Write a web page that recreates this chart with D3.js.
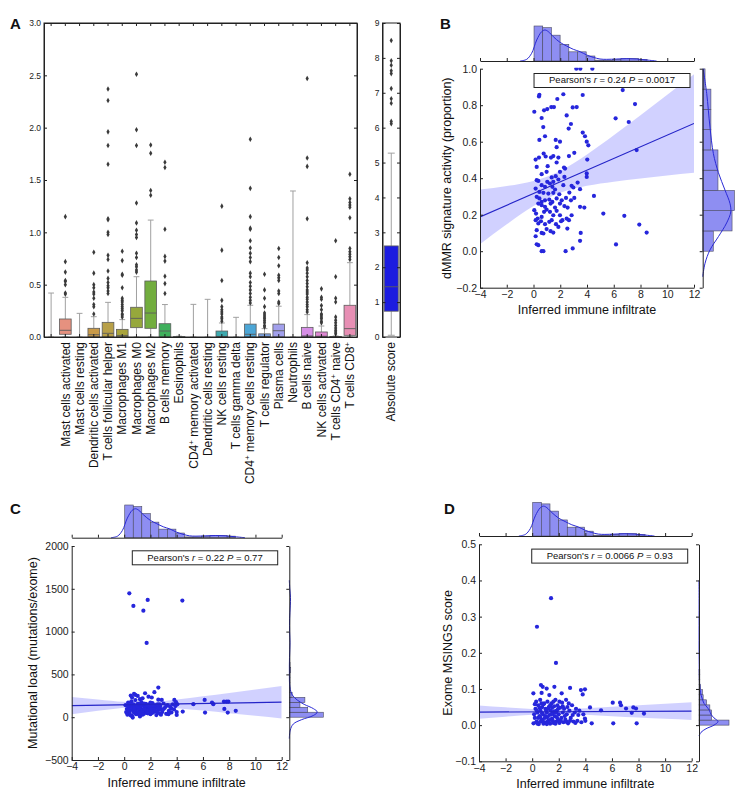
<!DOCTYPE html>
<html>
<head>
<meta charset="utf-8">
<script src="https://cdn.jsdelivr.net/npm/d3@7"></script>
<style>
body { margin: 0; background: #fff; }
text { font-family: "Liberation Sans", Arial, sans-serif; }
</style>
</head>
<body>
<script>
// ---------- panel A data ----------
// first cell type has no label in the figure
var cellTypes = ["", "Mast cells activated", "Mast cells resting", "Dendritic cells activated",
	"T cells follicular helper", "Macrophages M1", "Macrophages M0", "Macrophages M2",
	"B cells memory", "Eosinophils", "CD4^+ memory activated", "Dendritic cells resting",
	"NK cells resting", "T cells gamma delta", "CD4^+ memory cells resting", "T cells regulator",
	"Plasma cells", "Neutrophils", "B cells naive", "NK cells activated", "T cells CD4^+ naive",
	"T cells CD8^+"];

var whiskerLow  = [0, 0, 0, 0, 0, 0, 0, 0, 0, 0, 0, 0, 0, 0, 0, 0, 0, 0, 0, 0, 0, 0];
var quart1      = [0, 0.026, 0, 0, 0, 0, 0.089, 0.083, 0, 0, 0, 0, 0, 0, 0, 0, 0, 0, 0, 0, 0, 0.016];
var medians     = [0, 0.064, 0, 0.022, 0.035, 0.015, 0.178, 0.229, 0.057, 0, 0, 0, 0.005, 0, 0.026, 0.005, 0.06, 0, 0.01, 0.007, 0, 0.08];
var quart3      = [0, 0.172, 0, 0.083, 0.14, 0.073, 0.284, 0.535, 0.127, 0.002, 0, 0, 0.057, 0, 0.123, 0.03, 0.123, 0, 0.092, 0.048, 0.004, 0.303];
var whiskerHigh = [0.42, 0.379, 0.226, 0.194, 0.331, 0.166, 0.576, 1.117, 0.31, 0.008, 0.312, 0.36, 0.134, 0.188, 0.303, 0.08, 0.294, 1.395, 0.214, 0.105, 0.01, 0.71];
var outliers = [
	[],
	[1.15, 0.72, 0.62, 0.54, 0.53, 0.5, 0.42, 0.41],
	[],
	[0.81, 0.61, 0.5, 0.47, 0.43, 0.41, 0.37, 0.31, 0.29, 0.22],
	[2.37, 2.26, 1.96, 1.83, 1.65, 1.13, 1.12, 1.0, 0.98, 0.78, 0.74, 0.63, 0.56, 0.52, 0.49, 0.47, 0.44, 0.415],
	[0.82, 0.73, 0.6, 0.59, 0.47, 0.37, 0.35, 0.335, 0.31, 0.29, 0.27, 0.25, 0.22, 0.21, 0.19],
	[2.51, 1.98, 1.83, 1.28, 1.09, 1.02, 0.98, 0.95, 0.8, 0.76, 0.69, 0.67, 0.64, 0.62],
	[1.835, 1.755, 1.4, 1.355],
	[1.67, 1.62, 1.03, 0.77, 0.725, 0.58, 0.51, 0.415],
	[],
	[],
	[],
	[1.25, 0.83, 0.54, 0.35, 0.29, 0.26, 0.24, 0.22, 0.19, 0.175, 0.15],
	[],
	[1.89, 1.42, 1.15, 1.04, 1.03, 0.92, 0.85, 0.8, 0.76, 0.72, 0.61, 0.575, 0.52, 0.485, 0.45, 0.415, 0.38, 0.35, 0.325],
	[0.6, 0.45, 0.37, 0.29, 0.23, 0.21, 0.19, 0.175, 0.155, 0.135, 0.11, 0.095],
	[0.846, 0.76, 0.68, 0.59, 0.565, 0.54, 0.44, 0.415, 0.335, 0.32],
	[],
	[2.47, 1.71, 1.63, 1.13, 0.71, 0.66, 0.64, 0.61, 0.575, 0.54, 0.51, 0.48, 0.45, 0.43, 0.41, 0.38, 0.36, 0.335, 0.31, 0.29, 0.26, 0.24],
	[0.46, 0.38, 0.36, 0.3, 0.26, 0.22, 0.21, 0.19, 0.175, 0.15, 0.135],
	[0.92, 0.575, 0.37, 0.335, 0.19, 0.16, 0.135, 0.11, 0.086, 0.064, 0.048, 0.03],
	[1.555, 1.32, 1.285, 1.26, 1.24, 1.14, 0.846, 0.815, 0.79, 0.766, 0.74]
];
var cellTicks = [0, 0.5, 1.0, 1.5, 2.0, 2.5, 3.0];

// absolute score box
var absStats = [0.05, 0.74, 1.44, 2.61, 5.27];
var absOutliers = [8.5, 7.92, 7.79, 7.63, 7.55, 7.12, 6.83, 6.7, 6.18, 6.11];
var absTicks = [0, 1, 2, 3, 4, 5, 6, 7, 8, 9];

// ---------- shared infiltrate marginal ----------
var infiltrateTicks = [-4, -2, 0, 2, 4, 6, 8, 10, 12];
var infiltrateBinStart = 0.04, infiltrateBinWidth = 0.65;
var infiltrateCounts = [42, 40, 31, 20, 11, 11, 6, 1, 1, 2, 3, 3, 2];
var infiltrateKde = [[-1.0, 0], [-0.51, 2], [-0.14, 9.2], [0.24, 25.2], [0.61, 35.2], [0.86, 37.2],
	[1.11, 35.2], [1.48, 29.2], [1.98, 22.4], [2.48, 18], [2.98, 14], [3.48, 11.2], [3.98, 7.2],
	[4.47, 4.4], [4.97, 2.4], [5.47, 2], [6.22, 2.4], [6.97, 2.8], [7.71, 2.4], [8.46, 1.2], [9.2, 0]];
var bandX = [-4, -2, 0, 2, 4, 6, 8, 10, 12];

var pearsonR = ["0.24", "0.22", "0.0066"];
var pearsonP = ["0.0017", "0.77", "0.93"];

// ---------- panel B: dMMR ----------
var dmmrPoints = [[3.2,1.0],[3.5,1.0],[4.4,1.0],
	[0.41,0.848],[0.44,0.857],[2.23,0.86],[1.78,0.834],[3.68,0.856],[6.67,0.883],
	[0.06,0.764],[0.79,0.772],[1.03,0.779],[1.33,0.79],[1.53,0.79],[2.93,0.788],[3.23,0.79],[7.59,0.806],
	[0.61,0.73],[2.48,0.744],[6.14,0.728],[7.12,0.708],[0.73,0.68],[2.8,0.697],[2.63,0.672],
	[0.86,0.63],[0.44,0.61],[1.66,0.61],[1.98,0.6],[3.68,0.65],[3.85,0.63],[3.98,0.6],[4.1,0.58],[1.73,0.57],[7.71,0.554],
	[0.16,0.502],[0.41,0.513],[0.76,0.535],[0.91,0.519],[1.31,0.513],[1.48,0.521],[1.86,0.513],[2.65,0.521],[3.05,0.539],
	[0.24,0.462],[1.06,0.466],[1.73,0.486],[2.36,0.453],[2.28,0.458],[0.61,0.422],[0.98,0.435],[1.66,0.411],[1.98,0.435],
	[0.24,0.389],[0.36,0.385],[1.03,0.38],[1.36,0.404],[1.48,0.38],[1.86,0.393],[2.31,0.407],[4.02,0.502],[3.98,0.426],[3.98,0.407],
	[0.61,0.362],[0.86,0.353],[1.23,0.371],[1.41,0.353],[1.61,0.338],[2.23,0.362],[2.85,0.358],[3.3,0.376],
	[0.16,0.343],[0.44,0.325],[0.74,0.32],[1.11,0.316],[1.48,0.32],[1.93,0.312],[2.68,0.321],[2.98,0.349],[4.52,0.303],[3.48,0.34],
	[0.24,0.298],[0.44,0.289],[0.61,0.27],[0.86,0.279],[1.18,0.283],[1.41,0.27],[1.73,0.289],[2.11,0.279],[2.43,0.292],[2.8,0.279],[3.05,0.292],
	[0.36,0.261],[0.61,0.252],[0.86,0.243],[1.28,0.261],[1.61,0.239],[1.98,0.261],[2.31,0.247],[2.55,0.239],[3.48,0.243],[3.8,0.239],
	[5.22,0.206],[6.79,0.194],[7.91,0.146],[8.46,0.102],[6.17,0.037],
	[0.06,0.225],[0.19,0.206],[0.31,0.179],[0.61,0.188],[0.79,0.216],[0.98,0.228],[1.23,0.216],[1.48,0.197],[1.73,0.221],[1.98,0.197],[2.16,0.17],[2.48,0.179],[2.85,0.197],
	[0.16,0.17],[0.36,0.152],[0.56,0.164],[0.86,0.148],[1.18,0.161],[1.36,0.17],[1.68,0.148],[2.06,0.164],[2.65,0.17],
	[0.24,0.115],[0.61,0.1],[0.98,0.121],[1.28,0.11],[1.48,0.102],[1.86,0.133],[2.53,0.124],
	[0.16,0.082],[0.74,0.097],[3.53,0.1],[3.48,0.057],[0.24,0.038],[0.36,0.033],[0.61,0.0],[0.74,0.0],[2.4,0.0],[2.93,0.015]];
var dmmrTicks = [-0.2, 0, 0.2, 0.4, 0.6, 0.8, 1.0];
var dmmrFit = [[-4, 0.188], [12, 0.70]];
var dmmrBandLow  = [0.038, 0.147, 0.247, 0.32, 0.358, 0.381, 0.399, 0.415, 0.43];
var dmmrBandHigh = [0.338, 0.357, 0.385, 0.44, 0.53, 0.635, 0.745, 0.857, 0.97];
var dmmrBinStart = 0, dmmrBinWidth = 0.111;
var dmmrCounts = [9, 25, 27, 13, 13, 7, 7, 7, 2];
var dmmrKde = [[1.0, 0.4], [0.865, 3.4], [0.68, 6.2], [0.535, 9.1], [0.43, 13.4], [0.335, 19], [0.26, 23.3],
	[0.215, 23.9], [0.155, 20.4], [0.08, 13.4], [0.007, 6.2], [-0.066, 2], [-0.14, 0]];

// ---------- panel C: mutational load ----------
var mutPoints = [[0.39,1447],[0.7,1300],[1.79,1370],[1.46,1245],[1.71,868],[4.43,1362],
	[2.6,346],[2.3,292],[1.59,280],[0.75,272],[0.5,253],[1.03,249],[1.2,210],[0.85,260],[1.85,240],[2.1,230],[0.6,230],[1.4,220],[2.6,205],
	[2.86,202],[3.82,202],[3.95,175],[6.13,202],[6.79,152],[6.69,171],[5.27,152],[7.63,97],[7.6,183],[7.8,183],[7.94,183],[6.16,54],[7.89,54],[8.5,74],
	[4.46,66],[4.0,27],[3.37,35],[1.2,8],[0.65,-4],
	[0.1,140],[0.15,60],[0.2,95],[0.25,30],[0.3,170],[0.35,110],[0.4,45],[0.45,80],[0.5,125],[0.55,185],[0.6,15],[0.65,90],[0.7,150],[0.75,55],
	[0.8,120],[0.85,200],[0.9,70],[0.95,100],[1.0,40],[1.05,160],[1.1,130],[1.15,85],[1.2,25],[1.25,110],[1.3,175],[1.35,60],[1.4,145],[1.45,95],
	[1.5,40],[1.55,125],[1.6,75],[1.65,155],[1.7,50],[1.75,105],[1.8,135],[1.85,65],[1.9,90],[1.95,150],[2.0,35],[2.05,120],[2.1,80],[2.15,165],
	[2.2,55],[2.25,100],[2.35,140],[2.4,70],[2.45,25],[2.5,115],[2.55,150],[2.6,85],[2.7,45],[2.75,130],[2.8,95],[2.9,60],[3.0,160],[3.1,110],
	[3.2,40],[3.3,140],[3.4,75],[3.5,120],[3.6,55],[3.7,150],[3.8,90],[3.9,130],[4.0,60],[4.05,150],
	[0.2,50],[0.3,130],[0.4,75],[0.5,20],[0.6,110],[0.7,65],[0.8,90],[0.9,35],[1.0,120],[1.1,55],[1.2,95],[1.3,140],[1.4,30],[1.5,160],
	[1.6,110],[1.7,80],[1.8,45],[1.9,125],[2.0,170],[2.1,50],[2.2,135],[2.3,90],[2.5,60],[2.6,105],[2.7,150],[2.8,30],[3.0,95],[3.2,130],
	[3.4,45],[3.6,100],[0.35,85],[0.55,150],[0.75,100],[0.95,140],[1.15,50],[1.35,75],[1.55,95],[1.75,140],[2.05,95]];
var mutTicks = [-500, 0, 500, 1000, 1500, 2000];
var mutFit = [[-4, 136], [12, 175]];
var mutBandLow  = [35, 74, 110, 125, 105, 77, 47, 16, -14];
var mutBandHigh = [237, 208, 181, 176, 206, 244, 284, 324, 364];
var mutBinStart = 0, mutBinWidth = 58;
var mutCounts = [48, 26, 15, 22, 4, 1, 0, 0, 0, 0, 0, 0, 0, 0, 1, 0, 0, 0, 0, 0, 0, 1, 1, 2, 1];
var mutKde = [[-250, 0], [-150, 1.4], [-80, 5.6], [-30, 17], [20, 34], [60, 39.5], [100, 34], [150, 21], [200, 11.3],
	[260, 4.2], [350, 0.85], [500, 0.14], [700, 0.3], [870, 1], [1000, 0.4], [1150, 0.4], [1300, 1.4], [1400, 1.7], [1500, 0.7], [1600, 0]];

// ---------- panel D: exome MSINGS ----------
var msiPoints = [[1.42,0.351],[0.36,0.272],[1.79,0.172],[0.66,0.111],[0.79,0.106],[1.67,0.106],[2.85,0.103],[1.09,0.101],[0.09,0.088],[0.71,0.089],
	[1.29,0.083],[2.22,0.088],[3.67,0.097],[3.97,0.099],[3.8,0.085],[6.06,0.062],[6.61,0.062],[6.68,0.055],[7.06,0.046],[7.61,0.049],[7.81,0.046],
	[7.49,0.034],[8.41,0.032],[5.18,0.041],[4.35,0.049],[6.1,0.005],[7.86,0.005],[4.48,0.005],[3.97,0.018],[3.47,0.028],
	[0.1,0.005],[0.2,0.02],[0.25,0.045],[0.3,0.065],[0.35,0.01],[0.4,0.035],[0.45,0.055],[0.5,0.003],[0.55,0.025],[0.6,0.07],[0.62,0.04],[0.7,0.015],
	[0.75,0.05],[0.8,0.03],[0.85,0.004],[0.9,0.06],[0.95,0.02],[1.0,0.045],[1.05,0.008],[1.1,0.035],[1.15,0.065],[1.2,0.012],[1.25,0.05],[1.3,0.028],
	[1.35,0.004],[1.4,0.04],[1.45,0.06],[1.5,0.018],[1.55,0.033],[1.6,0.006],[1.65,0.052],[1.7,0.025],[1.75,0.07],[1.8,0.01],[1.85,0.04],[1.9,0.055],
	[1.95,0.015],[2.0,0.03],[2.05,0.006],[2.1,0.048],[2.2,0.02],[2.25,0.062],[2.3,0.035],[2.35,0.008],[2.4,0.045],[2.5,0.015],[2.55,0.07],[2.6,0.03],
	[2.65,0.05],[2.7,0.005],[2.8,0.04],[2.9,0.02],[3.0,0.055],[3.1,0.01],[3.2,0.035],[3.3,0.045],[3.4,0.012],[3.55,0.04],[3.7,0.008],[3.85,0.03],[4.0,0.012],
	[0.15,0.03],[0.3,0.008],[0.45,0.02],[0.55,0.048],[0.65,0.01],[0.75,0.033],[0.85,0.058],[0.95,0.006],[1.05,0.04],[1.15,0.022],[1.25,0.008],
	[1.35,0.055],[1.45,0.03],[1.55,0.012],[1.65,0.038],[1.75,0.004],[1.85,0.022],[1.95,0.045],[2.05,0.065],[2.15,0.012],[2.3,0.052],[2.45,0.025],
	[2.6,0.009],[2.75,0.06],[2.85,0.012],[3.05,0.028],[3.25,0.006],[0.2,0.058],[0.4,0.004],[0.6,0.022],[0.8,0.012],[1.0,0.025],[1.2,0.045],
	[1.4,0.015],[1.6,0.065],[1.8,0.035],[2.0,0.012],[0.35,0.04],[0.7,0.06],[1.1,0.003],[1.5,0.048]];
var msiTicks = [-0.1, 0, 0.1, 0.2, 0.3, 0.4, 0.5];
var msiFit = [[-4, 0.036], [12, 0.0387]];
var msiBandLow  = [0.0175, 0.0233, 0.0287, 0.0305, 0.0284, 0.0247, 0.021, 0.0174, 0.0142];
var msiBandHigh = [0.0545, 0.0493, 0.0447, 0.0435, 0.0464, 0.0507, 0.055, 0.0594, 0.0632];
var msiBinStart = 0, msiBinWidth = 0.014;
var msiCounts = [36, 15, 15, 13, 9, 5, 4, 2, 0, 0, 0, 0, 1, 0, 0, 0, 0, 0, 0, 1, 0, 0, 0, 0, 0, 1];
var msiKde = [[-0.03, 0], [-0.02, 2.4], [-0.01, 8.4], [0, 18], [0.01, 22.8], [0.02, 18], [0.03, 14.4], [0.04, 12.6],
	[0.05, 9.6], [0.06, 6], [0.075, 3.6], [0.09, 1.8], [0.11, 0.8], [0.14, 0.4], [0.2, 0.1], [0.35, 0.1], [0.4, 0]];

// box colours (husl-like, desaturated)
var cellColors = ["#e0877f", "#e6917f", "#d99a5a", "#c99a48", "#b8a048", "#a9a43c", "#96a83c", "#72ad3e",
	"#3fb05c", "#3fae84", "#40ad97", "#40aca6", "#3ea9ae", "#42a8c0", "#4ca6d6", "#7aa0e0", "#a2a0ec",
	"#bf95ea", "#d68ee6", "#de86d2", "#e48ac0", "#e78fb4"];

var ink = "#222";
var whiskerGray = "#a0a0a0";
var edgeGray = "#5c5c5c";

var svg = d3.select("body").append("svg")
	.attr("width", 746)
	.attr("height", 803);
var defs = svg.append("defs");

function styleAxis(sel, size) {
	sel.attr("font-family", "DejaVu Sans, sans-serif").attr("font-size", size);
	sel.select(".domain").attr("stroke", ink);
	sel.selectAll(".tick line").attr("stroke", ink);
	sel.selectAll(".tick text").attr("fill", ink);
}

function panelLetter(x, y, s) {
	svg.append("text").attr("x", x).attr("y", y)
		.attr("font-size", 15).attr("font-weight", "bold").attr("fill", "#111")
		.text(s);
}

// ---------- box plot helper ----------
function drawBox(g, cx, bw, st, fl, y, color) {
	var capW = bw * 0.5;
	g.append("line").attr("x1", cx).attr("x2", cx).attr("y1", y(st[4])).attr("y2", y(st[3]))
		.attr("stroke", whiskerGray);
	g.append("line").attr("x1", cx).attr("x2", cx).attr("y1", y(st[1])).attr("y2", y(st[0]))
		.attr("stroke", whiskerGray);
	g.append("line").attr("x1", cx - capW / 2).attr("x2", cx + capW / 2).attr("y1", y(st[4])).attr("y2", y(st[4]))
		.attr("stroke", whiskerGray);
	g.append("line").attr("x1", cx - capW / 2).attr("x2", cx + capW / 2).attr("y1", y(st[0])).attr("y2", y(st[0]))
		.attr("stroke", whiskerGray);
	if (st[3] > st[1]) {
		g.append("rect").attr("x", cx - bw / 2).attr("width", bw)
			.attr("y", y(st[3])).attr("height", y(st[1]) - y(st[3]))
			.attr("fill", color).attr("stroke", edgeGray).attr("stroke-width", 0.8);
		g.append("line").attr("x1", cx - bw / 2).attr("x2", cx + bw / 2).attr("y1", y(st[2])).attr("y2", y(st[2]))
			.attr("stroke", edgeGray).attr("stroke-width", 0.9);
	}
	g.selectAll(null).data(fl).enter().append("path")
		.attr("d", d3.symbol(d3.symbolDiamond, 9))
		.attr("transform", function(d) { return "translate(" + cx + "," + y(d) + ")"; })
		.attr("fill", "#3a3a3a");
}

// ---------- panel A ----------
var aL = 44, aR = 357, aT = 23, aB = 337;
var xA = d3.scaleBand().domain(d3.range(cellTypes.length)).range([aL, aR]);
var yA = d3.scaleLinear().domain([0, 3]).range([aB, aT]);
var gA = svg.append("g");

for (var i = 0; i < cellTypes.length; i++) {
	var cx = xA(i) + xA.bandwidth() / 2;
	drawBox(gA, cx, xA.bandwidth() * 0.82,
		[whiskerLow[i], quart1[i], medians[i], quart3[i], whiskerHigh[i]],
		outliers[i], yA, cellColors[i]);
}

gA.append("rect").attr("x", aL).attr("y", aT).attr("width", aR - aL).attr("height", aB - aT)
	.attr("fill", "none").attr("stroke", ink);
gA.append("g").attr("transform", "translate(" + aL + ",0)")
	.call(d3.axisLeft(yA).tickValues(cellTicks).tickFormat(d3.format(".1f")).tickSizeInner(-3).tickSizeOuter(0).tickPadding(3))
	.call(styleAxis, 8.5);
gA.append("g").attr("transform", "translate(" + aR + ",0)")
	.call(d3.axisRight(yA).tickValues(cellTicks).tickFormat("").tickSizeInner(-3).tickSizeOuter(0))
	.call(styleAxis, 8.5);
var catAxis = function(s) { return s.tickFormat("").tickSizeInner(-3).tickSizeOuter(0); };
gA.append("g").attr("transform", "translate(0," + aT + ")")
	.call(catAxis(d3.axisTop(xA))).call(styleAxis, 8.5);
gA.append("g").attr("transform", "translate(0," + aB + ")")
	.call(catAxis(d3.axisBottom(xA))).call(styleAxis, 8.5);

function addLabel(g, name, x, y) {
	var t = g.append("text")
		.attr("transform", "translate(" + x + "," + y + ") rotate(-90)")
		.attr("text-anchor", "end").attr("font-size", 12).attr("fill", "#111");
	var parts = name.split("^+");
	parts.forEach(function(p, k) {
		if (k > 0) t.append("tspan").attr("baseline-shift", "super").attr("font-size", 8).text("+");
		if (p) t.append("tspan").text(p);
	});
}

cellTypes.forEach(function(name, i) {
	if (!name) return;
	addLabel(gA, name, xA(i) + xA.bandwidth() / 2 + 4.2, 342);
});

// absolute score
var abL = 382.5, abR = 400;
var yAbs = d3.scaleLinear().domain([0, 9]).range([aB, aT]);
var abC = (abL + abR) / 2;
drawBox(gA, abC, (abR - abL) * 0.8, absStats, absOutliers, yAbs, "#1c1ce0");
gA.append("rect").attr("x", abL).attr("y", aT).attr("width", abR - abL).attr("height", aB - aT)
	.attr("fill", "none").attr("stroke", ink);
gA.append("g").attr("transform", "translate(" + abL + ",0)")
	.call(d3.axisLeft(yAbs).tickValues(absTicks).tickFormat(d3.format("d")).tickSizeInner(-3).tickSizeOuter(0).tickPadding(3))
	.call(styleAxis, 8.5);
gA.append("g").attr("transform", "translate(" + abR + ",0)")
	.call(d3.axisRight(yAbs).tickValues(absTicks).tickFormat("").tickSizeInner(-3).tickSizeOuter(0))
	.call(styleAxis, 8.5);
addLabel(gA, "Absolute score", abC + 4.2, 342);

panelLetter(10, 29, "A");

// ---------- joint plots ----------
function drawJoint(p) {
	var x = d3.scaleLinear().domain([-4, 12]).range([p.left, p.right]);
	var y = d3.scaleLinear().domain(p.yDomain).range([p.bottom, p.top]);
	var g = svg.append("g");

	var clipId = "clip" + p.id;
	defs.append("clipPath").attr("id", clipId).append("rect")
		.attr("x", p.left).attr("y", p.top - 1).attr("width", p.right - p.left).attr("height", p.bottom - p.top + 1);
	var plot = g.append("g").attr("clip-path", "url(#" + clipId + ")");

	var area = d3.area()
		.x(function(d) { return x(d[0]); })
		.y0(function(d) { return y(d[1]); })
		.y1(function(d) { return y(d[2]); })
		.curve(d3.curveMonotoneX);
	plot.append("path").datum(d3.zip(bandX, p.bandLow, p.bandHigh))
		.attr("d", area).attr("fill", "#0000ff").attr("fill-opacity", 0.18);

	plot.selectAll("circle").data(p.points).enter().append("circle")
		.attr("cx", function(d) { return x(d[0]); })
		.attr("cy", function(d) { return y(d[1]); })
		.attr("r", 2.1)
		.attr("fill", "#2626dc");

	plot.append("line")
		.attr("x1", x(p.fit[0][0])).attr("y1", y(p.fit[0][1]))
		.attr("x2", x(p.fit[1][0])).attr("y2", y(p.fit[1][1]))
		.attr("stroke", "#2424c8").attr("stroke-width", 1.2);

	g.append("g").attr("transform", "translate(" + p.left + ",0)")
		.call(d3.axisLeft(y).tickValues(p.yTicks).tickFormat(p.yFormat).tickSizeInner(-3).tickSizeOuter(0).tickPadding(3))
		.call(styleAxis, 10.5);
	g.append("g").attr("transform", "translate(0," + p.bottom + ")")
		.call(d3.axisBottom(x).tickValues(infiltrateTicks).tickFormat(d3.format("d")).tickSizeInner(-3).tickSizeOuter(0).tickPadding(3))
		.call(styleAxis, 10.5);

	// stats box
	var boxG = g.append("g");
	var boxRect = boxG.append("rect");
	var st = boxG.append("text").attr("y", p.top + 14.6).attr("font-size", 9.5)
		.attr("text-anchor", "middle").attr("fill", "#111");
	st.append("tspan").text("Pearson's ");
	st.append("tspan").attr("font-style", "italic").text("r");
	st.append("tspan").text(" = " + p.r + " ");
	st.append("tspan").attr("font-style", "italic").text("P");
	st.append("tspan").text(" = " + p.pval);
	var tw = st.node().getComputedTextLength();
	var bx1 = p.right - 4, bx0 = bx1 - tw - 30;
	st.attr("x", (bx0 + bx1) / 2);
	boxRect.attr("x", bx0).attr("y", p.top + 4.8).attr("width", bx1 - bx0).attr("height", 14)
		.attr("fill", "#fff").attr("stroke", ink).attr("stroke-width", 1);

	// labels
	g.append("text").attr("x", (p.left + p.right) / 2).attr("y", p.bottom + 26.5)
		.attr("text-anchor", "middle").attr("font-size", 12.5).attr("fill", "#111")
		.text("Inferred immune infiltrate");
	g.append("text").attr("transform", "translate(" + (p.ylabelX + 4.3) + "," + ((p.top + p.bottom) / 2) + ") rotate(-90)")
		.attr("text-anchor", "middle").attr("font-size", 12.5).attr("fill", "#111")
		.text(p.ylabel);

	// top marginal
	var hTop = d3.scaleLinear().domain([0, d3.max(infiltrateCounts)]).range([0, p.topH]);
	var base = p.topBase;
	g.append("g").selectAll("rect").data(infiltrateCounts).enter().append("rect")
		.filter(function(d) { return d > 0; })
		.attr("x", function(d, k) { return x(infiltrateBinStart + k * infiltrateBinWidth); })
		.attr("width", x(infiltrateBinWidth) - x(0))
		.attr("y", function(d) { return base - hTop(d); })
		.attr("height", function(d) { return hTop(d); })
		.attr("fill", "#8e8ef2").attr("stroke", "#4a4a60").attr("stroke-width", 0.6);
	g.append("path").datum(infiltrateKde)
		.attr("d", d3.line()
			.x(function(d) { return x(d[0]); })
			.y(function(d) { return base - hTop(d[1]); })
			.curve(d3.curveCatmullRom.alpha(0.5)))
		.attr("fill", "none").attr("stroke", "#2a2ad6").attr("stroke-width", 1);
	g.append("g").attr("transform", "translate(0," + base + ")")
		.call(d3.axisBottom(x).tickValues(infiltrateTicks).tickFormat("").tickSizeInner(-3).tickSizeOuter(0))
		.call(styleAxis, 10);

	// right marginal
	var rx = p.rightX;
	var wR = d3.scaleLinear().domain([0, d3.max(p.rCounts)]).range([0, p.rightW]);
	g.append("g").selectAll("rect").data(p.rCounts).enter().append("rect")
		.filter(function(d) { return d > 0; })
		.attr("x", rx)
		.attr("width", function(d) { return wR(d); })
		.attr("y", function(d, k) { return y(p.rStart + (k + 1) * p.rWidth); })
		.attr("height", y(0) - y(p.rWidth))
		.attr("fill", "#8e8ef2").attr("stroke", "#4a4a60").attr("stroke-width", 0.6);
	g.append("path").datum(p.rKde)
		.attr("d", d3.line()
			.x(function(d) { return rx + wR(d[1]); })
			.y(function(d) { return y(d[0]); })
			.curve(d3.curveCatmullRom.alpha(0.5)))
		.attr("fill", "none").attr("stroke", "#2a2ad6").attr("stroke-width", 1);
	g.append("g").attr("transform", "translate(" + rx + ",0)")
		.call(d3.axisRight(y).tickValues(p.yTicks).tickFormat("").tickSizeInner(-3).tickSizeOuter(0))
		.call(styleAxis, 10);
}

drawJoint({
	id: "B", left: 480, right: 694, top: 68.7, bottom: 287.7,
	yDomain: [-0.2, 1.0], yTicks: dmmrTicks, yFormat: d3.format(".1f"),
	points: dmmrPoints, fit: dmmrFit, bandLow: dmmrBandLow, bandHigh: dmmrBandHigh,
	r: pearsonR[0], pval: pearsonP[0],
	ylabel: "dMMR signature activity (proportion)", ylabelX: 447,
	topBase: 61, topH: 35,
	rightX: 702.7, rightW: 31.7, rCounts: dmmrCounts, rStart: dmmrBinStart, rWidth: dmmrBinWidth, rKde: dmmrKde
});

drawJoint({
	id: "C", left: 71.7, right: 281.7, top: 546, bottom: 760,
	yDomain: [-500, 2000], yTicks: mutTicks, yFormat: d3.format("d"),
	points: mutPoints, fit: mutFit, bandLow: mutBandLow, bandHigh: mutBandHigh,
	r: pearsonR[1], pval: pearsonP[1],
	ylabel: "Mutational load (mutations/exome)", ylabelX: 33,
	topBase: 537.7, topH: 32.7,
	rightX: 289.3, rightW: 34, rCounts: mutCounts, rStart: mutBinStart, rWidth: mutBinWidth, rKde: mutKde
});

drawJoint({
	id: "D", left: 479, right: 691.7, top: 544.3, bottom: 761.3,
	yDomain: [-0.1, 0.5], yTicks: msiTicks, yFormat: d3.format(".1f"),
	points: msiPoints, fit: msiFit, bandLow: msiBandLow, bandHigh: msiBandHigh,
	r: pearsonR[2], pval: pearsonP[2],
	ylabel: "Exome MSINGS score", ylabelX: 448,
	topBase: 536, topH: 33.7,
	rightX: 699, rightW: 30, rCounts: msiCounts, rStart: msiBinStart, rWidth: msiBinWidth, rKde: msiKde
});

panelLetter(440, 29, "B");
panelLetter(10, 514, "C");
panelLetter(444, 514, "D");
</script>
</body>
</html>
